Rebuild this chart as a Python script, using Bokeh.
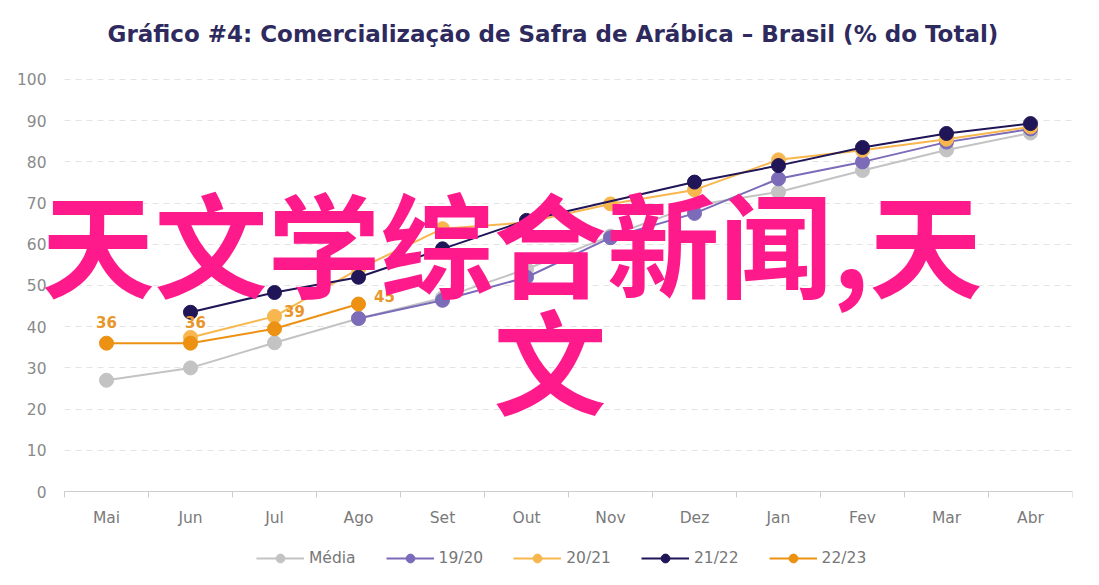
from bokeh.plotting import figure
from bokeh.models import (ColumnDataSource, FixedTicker, Legend, LegendItem,
                          LabelSet, Label, Range1d)
from bokeh.embed import file_html
from bokeh.resources import INLINE
from bokeh.core.properties import value

# ---------------- data ----------------
months = ["Mai", "Jun", "Jul", "Ago", "Set", "Out", "Nov", "Dez", "Jan", "Fev", "Mar", "Abr"]
media  = [27, 30, 36.1, 42, 47, 54, 62, 69.5, 72.7, 77.9, 82.9, 87]
s1920  = [None, None, None, 42, 46.4, 52, 61.6, 67.5, 75.9, 80.0, 84.8, 88]
s2021  = [None, 37.4, 42.5, 54, 63.8, 65.3, 69.8, 73.2, 80.5, 82.8, 85.5, 88.5]
s2122  = [None, 43.5, 48.3, 52, 58.9, 65.8, None, 75.1, 79.1, 83.5, 86.9, 89.3]
s2223  = [36, 36, 39.5, 45.5, None, None, None, None, None, None, None, None]
s2223_labels = ["36", "36", "39", "45"]
series_names = ["Média", "19/20", "20/21", "21/22", "22/23"]
y_ticks = list(range(0, 101, 10))
title_text = "Gráfico #4: Comercialização de Safra de Arábica – Brasil (% do Total)"
overlay_line1 = "天文学综合新闻,天"
overlay_line2 = "文"

# ---------------- styles ----------------
colors = ["#c3c3c3", "#7b6bb9", "#f7b74e", "#1f1557", "#ec9112"]
label_offsets_x = [0, 5, 20, 26]
label_offsets_y = [21, 21, 18, 8]
FONT = "DejaVu Sans"
n = len(months)
x_lo, x_hi = -0.5, n - 0.5

p = figure(width=1083, height=569,
           x_range=Range1d(x_lo - 64 / 84, x_hi), y_range=Range1d(-18.93, 104.61),
           output_backend="svg", toolbar_location=None,
           min_border_left=0, min_border_right=11,
           min_border_top=60, min_border_bottom=0)
p.background_fill_color = "white"
p.border_fill_color = "white"
p.outline_line_color = None

# title
p.title.text = title_text
p.title.align = "left"
p.title.offset = 107
p.title.text_font = FONT
p.title.text_font_style = "bold"
p.title.text_font_size = "23px"
p.title.text_color = "#2e2a5e"
p.title.standoff = 28

# axes
p.yaxis.fixed_location = x_lo
p.yaxis.ticker = FixedTicker(ticks=y_ticks)
p.yaxis.axis_line_color = None
p.yaxis.major_tick_line_color = None
p.yaxis.minor_tick_line_color = None
p.yaxis.major_tick_out = 0
p.yaxis.major_label_standoff = 18
p.yaxis.major_label_text_color = "#8a8a8a"
p.yaxis.major_label_text_font = FONT
p.yaxis.major_label_text_font_size = "15.5px"

p.xaxis.fixed_location = 0
p.xaxis.bounds = (x_lo, x_hi)
p.xaxis.ticker = FixedTicker(ticks=list(range(n)),
                             minor_ticks=[i - 0.5 for i in range(n + 1)])
p.xaxis.major_label_overrides = {i: m for i, m in enumerate(months)}
p.xaxis.axis_line_color = "#cccccc"
p.xaxis.major_tick_line_color = None
p.xaxis.major_tick_out = 0
p.xaxis.major_tick_in = 0
p.xaxis.minor_tick_line_color = "#cccccc"
p.xaxis.minor_tick_out = 6
p.xaxis.minor_tick_in = 0
p.xaxis.major_label_standoff = 11
p.xaxis.major_label_text_color = "#7a7a7a"
p.xaxis.major_label_text_font = FONT
p.xaxis.major_label_text_font_size = "15.5px"

p.xgrid.visible = False
p.ygrid.grid_line_color = "#e3e3e3"
p.ygrid.grid_line_dash = "6 5"
for g in p.ygrid:
    if hasattr(g, "cross_bounds"):
        g.cross_bounds = (x_lo, x_hi)
    g.bounds = (0, 100)

# series
all_series = [media, s1920, s2021, s2122, s2223]
items = []
for name, vals, col in zip(series_names, all_series, colors):
    xs = [i for i, v in enumerate(vals) if v is not None]
    ys = [v for v in vals if v is not None]
    src = ColumnDataSource(dict(x=xs, y=ys))
    lr = p.line("x", "y", source=src, line_color=col, line_width=2)
    sr = p.scatter("x", "y", source=src, size=14, fill_color=col, line_color=col)
    items.append(LegendItem(label=name, renderers=[lr, sr]))

# data labels 22/23
lab_x = [i for i, v in enumerate(s2223) if v is not None]
lab_y = [v for v in s2223 if v is not None]
lab_src = ColumnDataSource(dict(x=lab_x, y=lab_y, text=s2223_labels,
                                xo=label_offsets_x, yo=label_offsets_y))
p.add_layout(LabelSet(x="x", y="y", text="text", x_offset="xo", y_offset="yo",
                      source=lab_src, text_align="center", text_baseline="middle",
                      text_font=value(FONT), text_font_style="bold",
                      text_font_size="15px", text_color="#e8962a"))

legend = Legend(items=items, orientation="horizontal", location=(256, 0),
                glyph_width=48, glyph_height=22, label_standoff=5, spacing=30,
                label_text_font=FONT, label_text_font_size="15.5px",
                label_text_color="#777777", border_line_color=None,
                background_fill_alpha=0, margin=0, padding=0)
p.add_layout(legend)

# pink overlay text
p.add_layout(Label(x=-0.774, y=61.0, text=overlay_line1, text_font="Noto Sans CJK SC",
                   text_font_style="bold", text_font_size="113px", text_color="#ff1a8c",
                   text_align="left", text_baseline="middle"))
p.add_layout(Label(x=4.607, y=32.6, text=overlay_line2, text_font="Noto Sans CJK SC",
                   text_font_style="bold", text_font_size="113px", text_color="#ff1a8c",
                   text_align="left", text_baseline="middle"))

open("out.html", "w").write(file_html(p, INLINE))
